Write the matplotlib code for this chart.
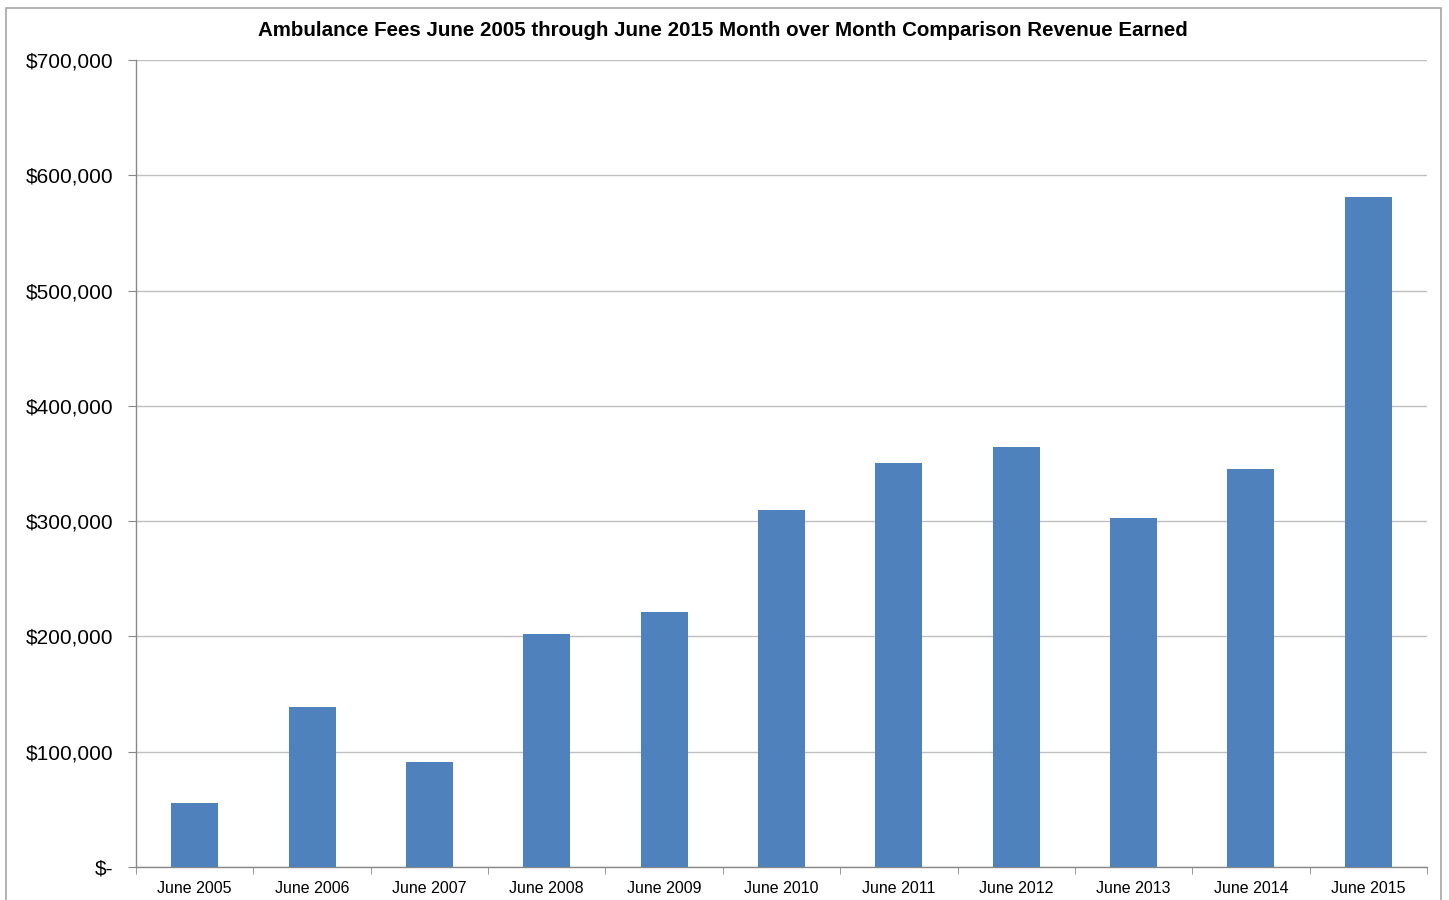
import matplotlib
matplotlib.use("Agg")
import matplotlib.pyplot as plt
from matplotlib.patches import Rectangle
from matplotlib.ticker import FuncFormatter, MultipleLocator

categories = ["June 2005", "June 2006", "June 2007", "June 2008", "June 2009",
              "June 2010", "June 2011", "June 2012", "June 2013", "June 2014",
              "June 2015"]
revenue = [55500, 138800, 91100, 202100, 221200, 309700, 350400, 364300,
           302700, 345200, 581100]

plt.rcParams['font.family'] = ['Liberation Sans', 'DejaVu Sans']

W, H = 1449, 900
fig = plt.figure(figsize=(W / 100, H / 100), dpi=100)
ax = fig.add_axes([136 / W, 1 - 867 / H, (1427 - 136) / W, (867 - 60) / H])

# chart-area border
fig.patches.append(Rectangle((6 / W, -0.05), (1441 - 6) / W, 1.05 - 8 / H,
                             transform=fig.transFigure, fill=False,
                             edgecolor='#a6a6a6', linewidth=1.2))

x = list(range(len(categories)))
ax.bar(x, revenue, width=0.4, color='#4F81BD', zorder=3)

ax.set_xlim(-0.5, len(categories) - 0.5)
ax.set_ylim(0, 700000)
ax.yaxis.set_major_locator(MultipleLocator(100000))

def money(v, pos):
    if v == 0:
        return "$-"
    return "${:,.0f}".format(v)

ax.yaxis.set_major_formatter(FuncFormatter(money))
ax.grid(axis='y', color='#bfbfbf', linewidth=1, zorder=0)

ax.set_xticks(x)
ax.set_xticklabels(categories, fontsize=11.5)
ax.tick_params(axis='x', which='major', length=0, pad=10)
ax.set_xticks([i - 0.5 for i in range(len(categories) + 1)], minor=True)
ax.tick_params(axis='x', which='minor', length=5, color='#888888', direction='out')
ax.tick_params(axis='y', length=6, color='#888888', labelsize=15, pad=10)

for side in ('top', 'right'):
    ax.spines[side].set_visible(False)
for side in ('left', 'bottom'):
    ax.spines[side].set_color('#888888')
    ax.spines[side].set_linewidth(1)

fig.text(723 / W, 1 - 31 / H,
         "Ambulance Fees June 2005 through June 2015 Month over Month Comparison Revenue Earned",
         ha='center', va='center', fontsize=14.8, fontweight='bold')

fig.savefig("out.png", dpi=100)
